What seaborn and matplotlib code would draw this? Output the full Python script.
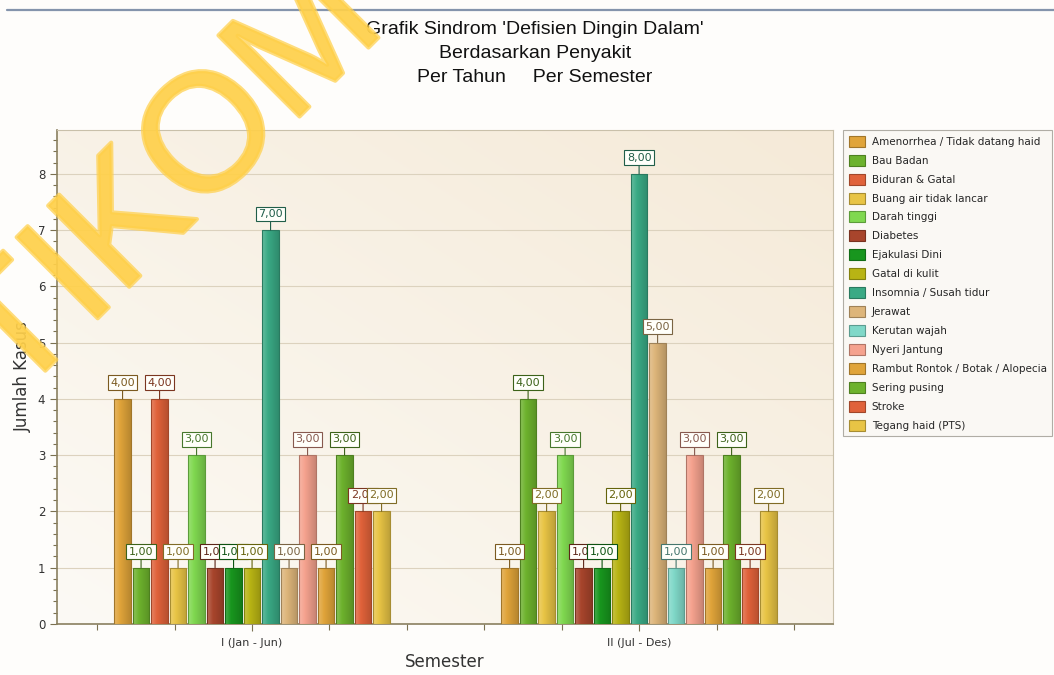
import numpy as np
import pandas as pd
import matplotlib
matplotlib.use("Agg")
import matplotlib.pyplot as plt
import matplotlib.colors as mcolors
import matplotlib.patheffects as pe
from matplotlib.patches import Patch
from matplotlib.lines import Line2D
from matplotlib.ticker import MultipleLocator
import seaborn as sns

# ---------------- data ----------------
categories = ["I (Jan - Jun)", "II (Jul - Des)"]
series = [
    "Amenorrhea / Tidak datang haid",
    "Bau Badan",
    "Biduran & Gatal",
    "Buang air tidak lancar",
    "Darah tinggi",
    "Diabetes",
    "Ejakulasi Dini",
    "Gatal di kulit",
    "Insomnia / Susah tidur",
    "Jerawat",
    "Kerutan wajah",
    "Nyeri Jantung",
    "Rambut Rontok / Botak / Alopecia",
    "Sering pusing",
    "Stroke",
    "Tegang haid (PTS)",
]
sem_1 = [4, 1, 4, 1, 3, 1, 1, 1, 7, 1, 0, 3, 1, 3, 2, 2]
sem_2 = [1, 4, 0, 2, 3, 1, 1, 2, 8, 5, 1, 3, 1, 3, 1, 2]
colors = [
    "#E0A43A", "#6DB22D", "#E0623A", "#E8C445", "#80D850", "#A8452C",
    "#18961E", "#B8B414", "#3AAA85", "#DDB57A", "#80D8C8", "#F5A28E",
    "#E0A43A", "#6DB22D", "#E0623A", "#E8C445",
]
title_lines = ["Grafik Sindrom 'Defisien Dingin Dalam'",
               "Berdasarkan Penyakit",
               "Per Tahun     Per Semester"]
y_label = "Jumlah Kasus"
x_label = "Semester"
watermark = "STIKOM"

SLOT = 0.0478  # spacing between adjacent bars inside a group (axis units)

rows = []
for ci, vals in enumerate([sem_1, sem_2]):
    nz = [(s, v) for s, v in zip(series, vals) if v > 0]
    n = len(nz)
    for slot, (s, v) in enumerate(nz):
        rows.append(dict(Semester=categories[ci], Penyakit=s, Kasus=v,
                         pos=ci + (slot - (n - 1) / 2) * SLOT))
df = pd.DataFrame(rows)

# ---------------- figure ----------------
sns.set_theme(style="white")
plt.rcParams["font.family"] = ["DejaVu Sans"]

W, H = 1054, 675
fig = plt.figure(figsize=(W / 100, H / 100), dpi=100, facecolor="#FEFDFB")
ax = fig.add_axes([57 / W, 1 - 624 / H, 776 / W, 494 / H])

palette = dict(zip(series, colors))
sns.barplot(data=df, x="pos", y="Kasus", hue="Penyakit", hue_order=series,
            palette=palette, native_scale=True, dodge=False, width=0.9,
            saturation=1, legend=False, ax=ax, zorder=3)

ax.set_xlim(-0.504, 1.501)
ax.set_ylim(0, 8.78)

# plot-area background gradient
gx, gy = np.meshgrid(np.linspace(0, 1, 200), np.linspace(0, 1, 200))
t = np.clip((gx + (1 - gy)) / 2, 0, 1)
c0 = np.array(mcolors.to_rgb("#FCFAF5"))
c1 = np.array(mcolors.to_rgb("#F5EAD8"))
bg = c0[None, None, :] * (1 - t[..., None]) + c1[None, None, :] * t[..., None]
ax.imshow(bg, extent=[0, 1, 0, 1], transform=ax.transAxes, aspect="auto",
          zorder=0, origin="upper")
ax.set_facecolor("#F8F1E6")

# bars: gradient + edge + labels
def darker(c, f):
    r = np.array(mcolors.to_rgb(c))
    return tuple(r * f)

patches = sorted([p for p in ax.patches if p.get_height() > 0], key=lambda p: p.get_x())
base_cols = []
for p in patches:
    fc = np.array(p.get_facecolor()[:3])
    base_cols.append(fc)
    x0, w, h = p.get_x(), p.get_width(), p.get_height()
    p.set_edgecolor(darker(fc, 0.72))
    p.set_linewidth(0.8)
    s = np.linspace(0, 1, 64)
    light = fc + (1 - fc) * 0.22
    dark = fc * 0.82
    grad = np.where(s[:, None] < 0.35,
                    light + (fc - light) * (s[:, None] / 0.35),
                    fc + (dark - fc) * ((s[:, None] - 0.35) / 0.65))
    im = ax.imshow(grad[None, :, :], extent=[x0, x0 + w, 0, h], aspect="auto",
                   zorder=3.5, interpolation="bilinear")
    im.set_clip_path(p)
    p.set_zorder(4)
    p.set_facecolor("none")

for p, fc in zip(patches, base_cols):
    dk = darker(fc, 0.55)
    xc = p.get_x() + p.get_width() / 2
    h = p.get_height()
    ax.annotate(f"{h:.2f}".replace(".", ","), xy=(xc, h), xytext=(0, 8),
                textcoords="offset points", ha="center", va="bottom",
                fontsize=8, color=dk, zorder=6,
                bbox=dict(boxstyle="square,pad=0.22", fc="#FFFFFA", ec=dk, lw=0.8),
                arrowprops=dict(arrowstyle="-", color=dk, lw=0.8,
                                shrinkA=0, shrinkB=0))

ax.set_xlim(-0.504, 1.501)
ax.set_ylim(0, 8.78)

# axes styling
ax.grid(False)
ax.yaxis.grid(True, color="#DCD2BE", lw=0.8, zorder=1)
ax.set_axisbelow(True)
ax.set_xticks([0, 1])
ax.set_xticklabels(categories, fontsize=8, color="#333333")
ax.xaxis.set_minor_locator(MultipleLocator(0.2))
ax.yaxis.set_major_locator(MultipleLocator(1))
ax.yaxis.set_minor_locator(MultipleLocator(0.2))
ax.tick_params(axis="y", which="major", length=5, width=0.8, color="#7A7050",
               labelsize=8.5, labelcolor="#333333", direction="out", left=True)
ax.tick_params(axis="y", which="minor", length=3, width=0.8, color="#7A7050", left=True)
ax.tick_params(axis="x", which="major", length=5, width=0.8, color="#7A7050",
               direction="out", bottom=True, pad=5)
ax.tick_params(axis="x", which="minor", length=4, width=0.8, color="#7A7050", bottom=True)
for side in ["left", "bottom"]:
    ax.spines[side].set_color("#8A8060")
    ax.spines[side].set_linewidth(1.2)
for side in ["top", "right"]:
    ax.spines[side].set_color("#C9C0AA")
    ax.spines[side].set_linewidth(0.8)
ax.set_xlabel(x_label, fontsize=12, color="#333333", labelpad=4)
ax.set_ylabel(y_label, fontsize=12, color="#333333", labelpad=4)

# title
for i, line in enumerate(title_lines):
    fig.text(535 / W, 1 - (30 + i * 23.5) / H, line, ha="center", va="center",
             fontsize=14, family="Liberation Sans", color="#111111")

# legend
handles = [Patch(facecolor=c, edgecolor=darker(c, 0.72), lw=0.8, label=s)
           for s, c in zip(series, colors)]
leg = ax.legend(handles=handles, loc="upper left",
                bbox_to_anchor=(843 / W, 1 - 130 / H), bbox_transform=fig.transFigure,
                fontsize=7.5, handlelength=1.6, handleheight=1.25, handletextpad=0.6,
                labelspacing=0.76, borderpad=0.55, borderaxespad=0, fancybox=False,
                frameon=True, edgecolor="#B0ADA5", facecolor="#FAF8F4", framealpha=1)
leg.get_frame().set_linewidth(0.8)

# top separator line
fig.add_artist(Line2D([7 / W, 1], [1 - 10 / H, 1 - 10 / H], transform=fig.transFigure,
                      color="#8494AC", lw=1.6))

# watermark
fig.text(162 / W, 1 - 254 / H, watermark, rotation=45, fontsize=120,
         family="Liberation Sans", color="#FFD04A", alpha=0.72, ha="center",
         va="baseline", rotation_mode="anchor", zorder=100,
         path_effects=[pe.withStroke(linewidth=3, foreground="#FFD04A")])

fig.savefig("out.png", dpi=100, facecolor=fig.get_facecolor())
